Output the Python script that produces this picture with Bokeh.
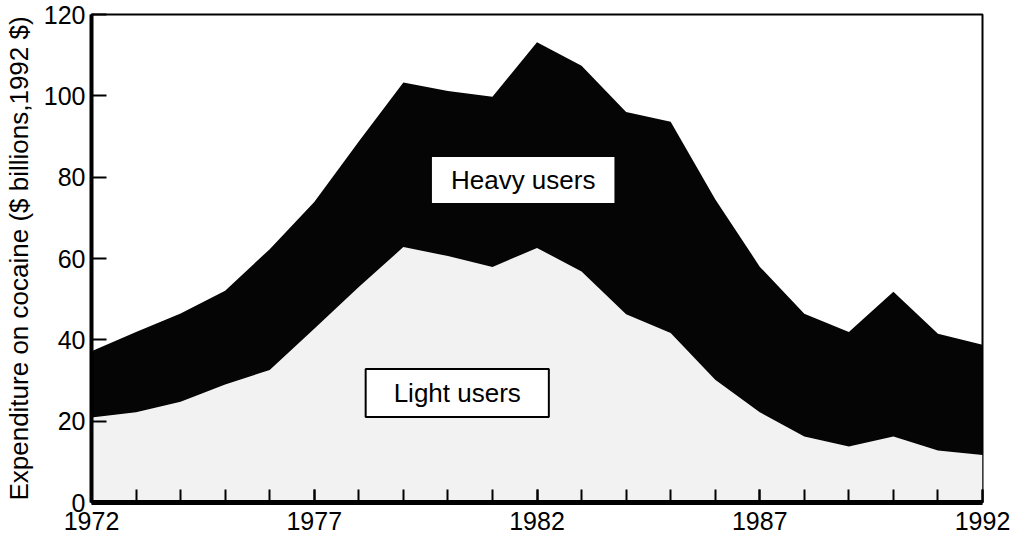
from bokeh.plotting import figure
from bokeh.models import Range1d, Label, FixedTicker
from bokeh.embed import file_html
from bokeh.resources import INLINE

years = list(range(1972, 1993))
light_users = [20.9, 22.2, 24.8, 29.0, 32.6, 42.7, 53.0, 62.8, 60.6, 57.9,
               62.6, 56.8, 46.3, 41.7, 30.2, 22.2, 16.2, 13.8, 16.2, 12.8, 11.7]
heavy_users = [16.3, 19.7, 21.7, 23.1, 29.7, 31.2, 35.8, 40.5, 40.6, 41.9,
               50.6, 50.6, 49.7, 51.9, 44.4, 35.8, 30.2, 28.1, 35.6, 28.7, 27.1]
total = [a + b for a, b in zip(light_users, heavy_users)]
zeros = [0] * len(years)
x_tick_labels = [1972, 1977, 1982, 1987, 1992]
y_ticks = [0, 20, 40, 60, 80, 100, 120]

FONT = "Liberation Sans"

p = figure(frame_width=891, frame_height=488, output_backend="svg",
           toolbar_location=None, x_range=Range1d(1972, 1992),
           y_range=Range1d(0, 120), min_border_left=87, min_border_right=28,
           min_border_top=14, min_border_bottom=37,
           background_fill_color="white", border_fill_color="white")

p.varea(x=years, y1=zeros, y2=light_users, fill_color="#f2f2f2")
p.varea(x=years, y1=light_users, y2=total, fill_color="#050505")

p.grid.visible = False
p.outline_line_color = "black"
p.outline_line_width = 2

# x axis
xa = p.xaxis[0]
xa.ticker = FixedTicker(ticks=x_tick_labels, minor_ticks=years)
xa.axis_line_width = 5
xa.major_tick_in = 13
xa.major_tick_out = 0
xa.minor_tick_in = 13
xa.minor_tick_out = 0
xa.major_tick_line_width = 2
xa.minor_tick_line_width = 2
xa.major_tick_line_color = "black"
xa.minor_tick_line_color = "black"
xa.major_label_text_font = FONT
xa.major_label_text_font_size = "25px"
xa.major_label_text_color = "black"
xa.major_label_standoff = 9

# y axis
ya = p.yaxis[0]
ya.ticker = FixedTicker(ticks=y_ticks)
ya.minor_tick_line_color = None
ya.axis_line_width = 4
ya.major_tick_in = 15
ya.major_tick_out = 0
ya.major_tick_line_width = 2
ya.major_tick_line_color = "black"
ya.major_label_text_font = FONT
ya.major_label_text_font_size = "25px"
ya.major_label_text_color = "black"
ya.major_label_standoff = 6
ya.axis_label = "Expenditure on cocaine ($ billions,1992 $)"
ya.axis_label_text_font = FONT
ya.axis_label_text_font_size = "26px"
ya.axis_label_text_font_style = "normal"
ya.axis_label_text_color = "black"
ya.axis_label_standoff = 7

heavy_lbl = Label(x=1981.69, y=79.3, text="Heavy users", text_align="center",
                  text_baseline="middle", text_font=FONT, text_font_size="26px",
                  text_color="black", background_fill_color="white",
                  border_line_color=None, padding=(19, 8))
light_lbl = Label(x=1980.21, y=26.9, text="Light users", text_align="center",
                  text_baseline="middle", text_font=FONT, text_font_size="26px",
                  text_color="black", background_fill_color="white",
                  border_line_color="black", border_line_width=2,
                  padding=(28, 9))
p.add_layout(heavy_lbl)
p.add_layout(light_lbl)

open("out.html", "w").write(file_html(p, INLINE))
